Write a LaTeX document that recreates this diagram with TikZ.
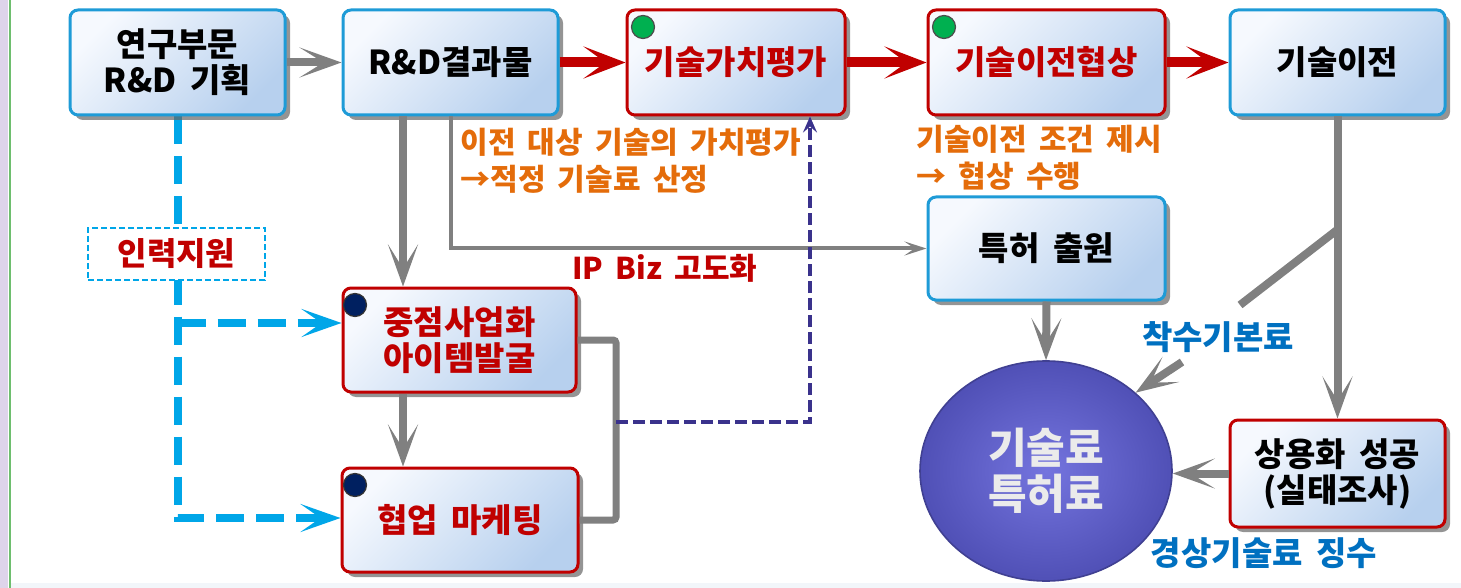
\documentclass[tikz,border=0pt]{standalone}
\usepackage{fontspec}
\setmainfont{Noto Sans CJK KR}[WordSpace=1.8]
\usetikzlibrary{arrows.meta,shadows,shapes.geometric,backgrounds}
\definecolor{bblue}{RGB}{30,155,215}
\definecolor{bred}{RGB}{192,0,0}
\definecolor{flight}{RGB}{246,249,254}
\definecolor{fdark}{RGB}{183,208,238}
\definecolor{agray}{RGB}{128,128,128}
\definecolor{torange}{RGB}{228,108,10}
\definecolor{tblue}{RGB}{0,112,192}
\definecolor{cdashc}{RGB}{0,166,232}
\definecolor{pdashc}{RGB}{58,50,140}
\definecolor{dgreen}{RGB}{0,176,80}
\definecolor{dnavy}{RGB}{0,32,96}
\definecolor{ellin}{RGB}{116,116,222}
\definecolor{ellout}{RGB}{80,80,182}
\definecolor{edgep}{RGB}{222,212,234}
\definecolor{edgeg}{RGB}{110,190,110}
\definecolor{bottomc}{RGB}{242,246,250}
\tikzset{
  box/.style={rounded corners=4pt, line width=1.5pt, top color=flight, bottom color=fdark, shading angle=45,
    drop shadow={shadow xshift=2.5pt, shadow yshift=-2.5pt, fill=black!60, opacity=0.7},
    align=center, font=\bfseries\fontsize{16.5}{18}\selectfont, inner sep=0pt},
  bbox/.style={box, draw=bblue, text=black},
  rbox/.style={box, draw=bred, text=bred},
  kbox/.style={box, draw=bred, text=black},
  dbox/.style={draw=cdashc, line width=0.8pt, dash pattern=on 3pt off 1.5pt, fill=white, inner sep=0pt,
    minimum width=88.5pt, minimum height=26pt, text=bred, font=\bfseries\fontsize{16}{18}\selectfont},
  ellnode/.style={ellipse, inner color=ellin, outer color=ellout, draw=ellout!80!black, line width=0.8pt,
    minimum width=126pt, minimum height=110pt, text=white!92!black, align=center, inner sep=0pt,
    font=\bfseries\fontsize{21}{23}\selectfont},
  gdot/.style={circle, fill=dgreen, draw=black!70, line width=0.6pt, minimum size=11.5pt, inner sep=0pt},
  ndot/.style={circle, fill=dnavy, draw=black!80, line width=0.6pt, minimum size=11.5pt, inner sep=0pt},
  garrow/.style={draw=agray, line width=4pt, -{Stealth[length=21pt,width=15pt,inset=12pt]}},
  rarrow/.style={draw=bred, line width=5pt, -{Stealth[length=21pt,width=16pt,inset=11pt]}},
  tharrow/.style={draw=agray, line width=2pt, -{Stealth[length=11pt,width=7pt,inset=5pt]}},
  gline/.style={draw=agray, line width=4pt},
  bracketline/.style={draw=agray, line width=3.5pt, rounded corners=1.5pt},
  cdash/.style={draw=cdashc, line width=4pt, dash pattern=on 14pt off 6pt, -{Stealth[length=20pt,width=14pt,inset=10pt]}},
  pdash/.style={draw=pdashc, line width=2pt, dash pattern=on 6pt off 2.5pt, -{Stealth[length=8pt,width=7pt,inset=3pt]}},
  otext/.style={text=torange, align=left, inner sep=0pt, font=\bfseries\fontsize{15}{18.5}\selectfont},
  rtext/.style={text=bred, inner sep=0pt, font=\bfseries\fontsize{15}{17}\selectfont},
  btext/.style={text=tblue, inner sep=0pt, font=\bfseries\fontsize{16.5}{18}\selectfont}
}
\begin{document}
\begin{tikzpicture}[x=0.5pt,y=-0.5pt]
\path[use as bounding box] (0,0) rectangle (1461,588);
\fill[edgep] (0,0) rectangle (7.5,588);
\fill[edgeg] (8.5,0) rectangle (11,588);
\fill[bottomc] (11,583) rectangle (1461,588);
% boxes
\node[bbox, minimum width=107.5pt, minimum height=52.5pt] (b1) at (177.5,62.5) {연구부문\\R\&D 기획};
\node[bbox, minimum width=107.5pt, minimum height=52.5pt] (b2) at (450.5,62.5) {R\&D결과물};
\node[rbox, minimum width=109pt, minimum height=52.5pt] (b3) at (736,62.5) {기술가치평가};
\node[rbox, minimum width=118.5pt, minimum height=52.5pt] (b4) at (1046.5,62.5) {기술이전협상};
\node[bbox, minimum width=107.5pt, minimum height=52.5pt] (b5) at (1337.5,62.5) {기술이전};
\node[bbox, minimum width=118.5pt, minimum height=51.5pt] (pat) at (1046.5,248.5) {특허 출원};
\node[rbox, minimum width=116.5pt, minimum height=52pt] (b6) at (459.5,340) {중점사업화\\아이템발굴};
\node[rbox, minimum width=118pt, minimum height=52pt] (b7) at (460,520) {협업 마케팅};
\node[kbox, minimum width=107.5pt, minimum height=53.5pt] (b8) at (1337.5,473.5) {상용화 성공\\(실태조사)};
\node[ellnode] (ell) at (1046,471) {기술료\\특허료};
\node[dbox] (hr) at (176.5,254) {인력지원};
% dots
\node[gdot] (d3) at (643,27) {};
\node[gdot] (d4) at (944,27) {};
\node[ndot] (d6) at (355,305) {};
\node[ndot] (d7) at (355,485) {};
% texts
\node[otext, anchor=west] (t1) at (460,161) {이전 대상 기술의 가치평가\\→적정 기술료 산정};
\node[otext, anchor=west] (t2) at (916,158) {기술이전 조건 제시\\→ 협상 수행};
\node[rtext] (t3) at (665,268) {IP Biz 고도화};
\node[btext] (t4) at (1218,337) {착수기본료};
\node[btext] (t5) at (1264,553) {경상기술료 징수};
% coordinates
\coordinate (xa) at (403,0);
\coordinate (xb) at (451,0);
\coordinate (xc) at (616,0);
\coordinate (pj) at (616,422);
\coordinate (xd) at (810,0);
\coordinate (dj) at (1337,230);
\coordinate (de) at (1240,305);
\coordinate (as) at (1182,362);
\coordinate (c6) at ([yshift=8.5pt]b6.west);
\coordinate (c7) at ([yshift=1pt]b7.west);
% connectors
\begin{scope}[on background layer]
\draw[cdash] (b1.south) |- (c7);
\draw[cdash] (b1.south |- c6) -- (c6);
\end{scope}
\draw[garrow] (b1.east) -- (b2.west);
\draw[rarrow] (b2.east) -- (b3.west);
\draw[rarrow] (b3.east) -- (b4.west);
\draw[rarrow] (b4.east) -- (b5.west);
\draw[garrow] (b2.south -| xa) -- (b6.north -| xa);
\draw[tharrow] (b2.south -| xb) |- (pat.west);
\draw[garrow] (b6.south -| xa) -- (b7.north -| xa);
\draw[bracketline] (b6.east) -- (b6.east -| xc) -- (b7.east -| xc) -- (b7.east);
\draw[pdash] (pj) -| (b3.south -| xd);
\draw[garrow] (b5.south) -- (b8.north);
\draw[gline] (dj) -- (de);
\draw[garrow] (as) -- (ell.north east);
\draw[garrow] (pat.south) -- (ell.north);
\draw[garrow] (b8.west) -- (b8.west -| ell.east);
\end{tikzpicture}
\end{document}
